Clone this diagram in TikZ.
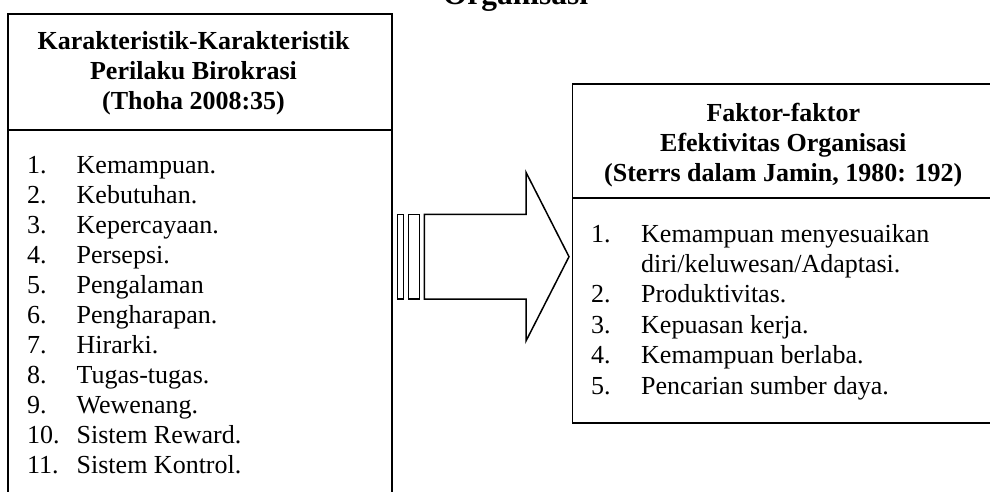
\documentclass[tikz,border=0pt]{standalone}
\usepackage{fontspec}
\setmainfont{Liberation Serif}
\begin{document}
\begin{tikzpicture}[x=1pt,y=-1pt,
  frame/.style={line width=1.5pt, line join=miter},
  hd/.style={font=\fontsize{26}{30}\selectfont\bfseries, anchor=base, inner sep=0pt},
  num/.style={font=\fontsize{26}{30}\selectfont, anchor=base west, inner sep=0pt},
  itm/.style={font=\fontsize{26}{30}\selectfont, anchor=base west, inner sep=0pt},
  ttl/.style={font=\fontsize{31.5}{36}\selectfont\bfseries, anchor=base, inner sep=0pt}]
\useasboundingbox (0,0) rectangle (990,492);
\clip (0,0) rectangle (990,492);
% title (cut at top, as in the reference)
\node[ttl] (title) at (515.5,5) {Organisasi};
% left box
\coordinate (LTL) at (8,14);
\coordinate (LTR) at (392,14);
\coordinate (LBL) at (8,520);
\coordinate (LBR) at (392,520);
\coordinate (LSL) at (8,130);
\coordinate (LSR) at (392,130);
\draw[frame] (LBL) -- (LTL) -- (LTR) -- (LBR);
\draw[frame] (LSL) -- (LSR);
\node[hd] (lh1) at (193.5,50) {Karakteristik-Karakteristik};
\node[hd] (lh2) at (193.5,80) {Perilaku Birokrasi};
\node[hd] (lh3) at (193.5,110) {(Thoha 2008:35)};
\foreach \t [count=\i] in {Kemampuan., Kebutuhan., Kepercayaan., Persepsi., Pengalaman, Pengharapan., Hirarki., Tugas-tugas., Wewenang., Sistem Reward., Sistem Kontrol.}{
  \node[num] (ln\i) at (27,{173.5+(\i-1)*30}) {\i.};
  \node[itm] (lt\i) at (76.5,{173.5+(\i-1)*30}) {\t};
}
% right box
\coordinate (RTL) at (572.7,84);
\coordinate (RTR) at (1010,84);
\coordinate (RBL) at (572.7,423);
\coordinate (RBR) at (1010,423);
\coordinate (RSL) at (572.7,198);
\coordinate (RSR) at (1010,198);
\draw[frame] (RTR) -- (RTL) -- (RBL) -- (RBR);
\draw[frame] (RSL) -- (RSR);
\node[hd] (rh1) at (783.3,122) {Faktor-faktor};
\node[hd] (rh2) at (783.3,151.5) {Efektivitas Organisasi};
\node[hd] (rh3) at (783.3,181) {(Sterrs dalam Jamin, 1980: 192)};
\node[num] (rn1) at (591,242) {1.};
\node[itm] (rt1) at (641,242) {Kemampuan menyesuaikan};
\node[itm] (rt1b) at (641,272.4) {diri/keluwesan/Adaptasi.};
\node[num] (rn2) at (591,302.8) {2.};
\node[itm] (rt2) at (641,302.8) {Produktivitas.};
\node[num] (rn3) at (591,333.2) {3.};
\node[itm] (rt3) at (641,333.2) {Kepuasan kerja.};
\node[num] (rn4) at (591,363.6) {4.};
\node[itm] (rt4) at (641,363.6) {Kemampuan berlaba.};
\node[num] (rn5) at (591,394) {5.};
\node[itm] (rt5) at (641,394) {Pencarian sumber daya.};
% striped block arrow
\coordinate (A1) at (424.3,214.3);
\coordinate (A2) at (526,214.3);
\coordinate (A3) at (526,172.3);
\coordinate (A4) at (569,256.7);
\coordinate (A5) at (526,341);
\coordinate (A6) at (526,299);
\coordinate (A7) at (424.3,299);
\draw[frame] (A1) -- (A2) -- (A3) -- (A4) -- (A5) -- (A6) -- (A7) -- cycle;
\draw[frame] (397.3,214.3) rectangle (403.3,299);
\draw[frame] (408.3,214.3) rectangle (419.3,299);
\end{tikzpicture}
\end{document}
